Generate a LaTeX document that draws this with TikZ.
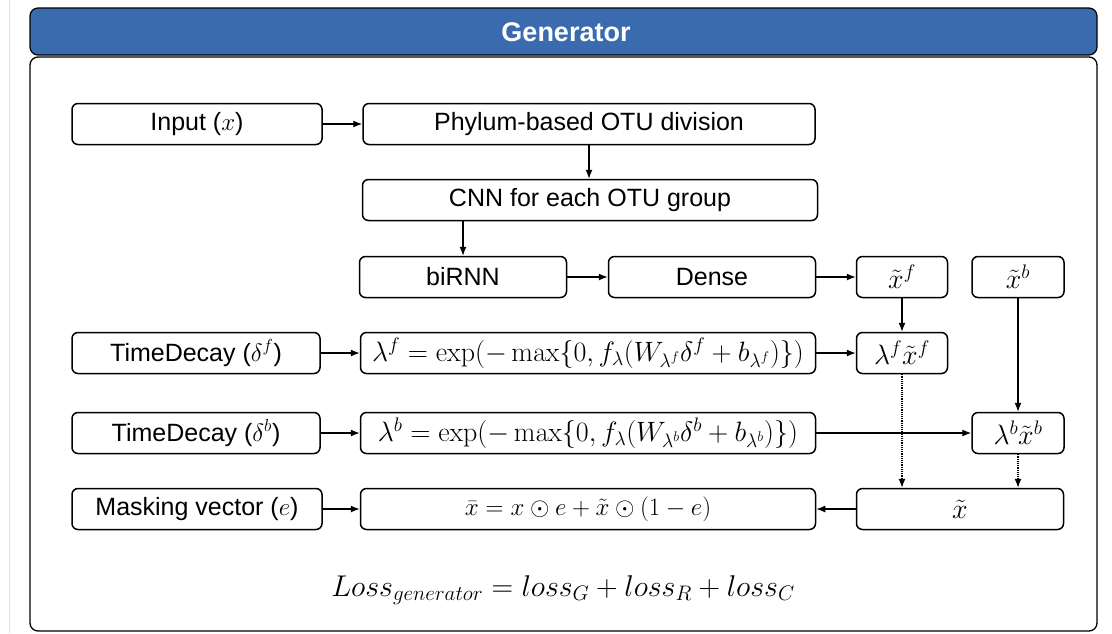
\RequirePackage{fix-cm}
\documentclass[tikz,border=0pt]{standalone}
\usepackage[no-math]{fontspec}
\setmainfont{Liberation Sans}
\usetikzlibrary{arrows.meta}
\definecolor{genblue}{RGB}{58,107,175}

\begin{document}
\begin{tikzpicture}[x=1pt,y=-1pt,>={Latex[length=9pt,width=7pt]},
	box/.style={draw, line width=1.5pt, rounded corners=6pt, minimum height=41pt, inner sep=0pt, font=\fontsize{25}{29}\selectfont},
	mbox/.style={box, font=\fontsize{28}{32}\selectfont},
	flow/.style={->, line width=1.2pt}]
	\useasboundingbox (0,0) rectangle (1112,633);
	\draw[black!12, line width=1pt] (9,0) -- (9,633);
	
	% frame
	\draw[fill=genblue, line width=1.2pt, rounded corners=8pt] (30,8) rectangle (1097,55);
	\node[text=white, font=\bfseries\fontsize{27}{30}\selectfont] (title) at (566,32) {Generator};
	\draw[line width=1.3pt, rounded corners=8pt] (30,57) rectangle (1097,631);
	
	\node[box, minimum width=250pt] (input) at (197,124) {Input ($x$)};
	\node[box, minimum width=452pt] (otu) at (589,124) {Phylum-based OTU division};
	\node[box, minimum width=455pt] (cnn) at (590,200) {CNN for each OTU group};
	\node[box, minimum width=207pt] (rnn) at (463,277) {biRNN};
	\node[box, minimum width=207pt] (dense) at (712,277) {Dense};
	\node[mbox, minimum width=91pt] (xf) at (902,277) {$\tilde{x}^f$};
	\node[mbox, minimum width=92pt] (xb) at (1018,277) {$\tilde{x}^b$};
	
	\node[box, minimum width=248pt] (tdf) at (196,353) {TimeDecay ($\delta^f$)};
	\node[mbox, minimum width=455pt] (lamf) at (588,353) {$\lambda^f = \exp(-\max\{0, f_\lambda(W_{\lambda^f}\delta^f + b_{\lambda^f})\})$};
	\node[mbox, minimum width=91pt] (lxf) at (902,353) {$\lambda^f\tilde{x}^f$};
	
	\node[box, minimum width=248pt] (tdb) at (196,433) {TimeDecay ($\delta^b$)};
	\node[mbox, minimum width=455pt] (lamb) at (588,433) {$\lambda^b = \exp(-\max\{0, f_\lambda(W_{\lambda^b}\delta^b + b_{\lambda^b})\})$};
	\node[mbox, minimum width=92pt] (lxb) at (1018,433) {$\lambda^b\tilde{x}^b$};
	
	\node[box, minimum width=250pt] (mask) at (197,509) {Masking vector ($e$)};
	\node[box, minimum width=455pt] (xbar) at (588,509) {$\bar{x} = x \odot e + \tilde{x} \odot (1-e)$};
	\node[mbox, minimum width=207pt] (xt) at (960,509) {$\tilde{x}$};
	
	\node[font=\fontsize{30}{34}\selectfont] (loss) at (563,590) {$Loss_{generator} = loss_G + loss_R + loss_C$};
	
	\draw[flow] (input) -- (otu);
	\draw[flow] (otu.south) -- (otu.south |- cnn.north);
	\draw[flow] (cnn.south -| rnn.north) -- (rnn.north);
	\draw[flow] (rnn) -- (dense);
	\draw[flow] (dense) -- (xf);
	\draw[flow] (xf) -- (lxf);
	\draw[flow] (xb) -- (lxb);
	\draw[flow] (tdf) -- (lamf);
	\draw[flow] (lamf) -- (lxf);
	\draw[flow] (tdb) -- (lamb);
	\draw[flow] (lamb) -- (lxb);
	\draw[flow, densely dotted] (lxf) -- (lxf |- xt.north);
	\draw[flow, densely dotted] (lxb) -- (lxb |- xt.north);
	\draw[flow] (xt) -- (xbar);
	\draw[flow] (mask) -- (xbar);
\end{tikzpicture}
\end{document}
